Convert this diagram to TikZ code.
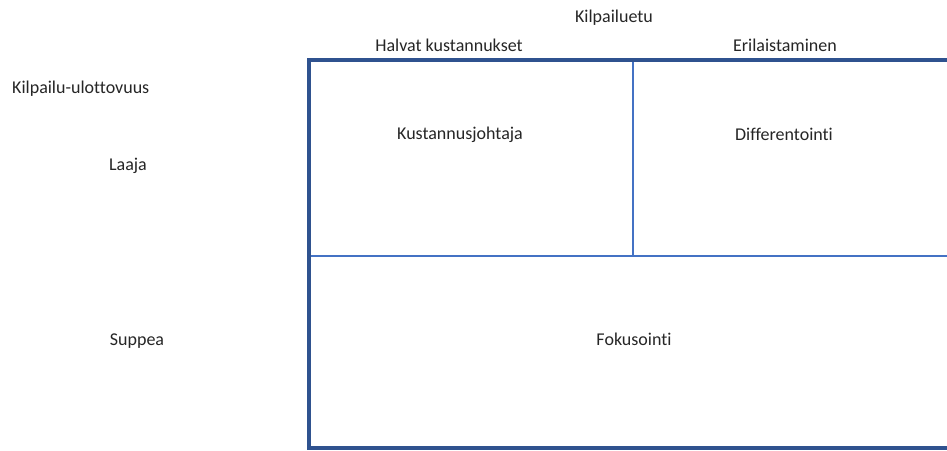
\documentclass[tikz,border=0pt]{standalone}
\usepackage{fontspec}
\setmainfont{Carlito}[Ligatures=NoCommon]
\usetikzlibrary{positioning}
\definecolor{Kehys}{HTML}{2F528F}
\definecolor{Jako}{HTML}{4472C4}
\definecolor{Teksti}{HTML}{262626}

\begin{document}
\begin{tikzpicture}[
  x=1pt,y=-1pt,
  font=\fontsize{18}{21}\selectfont,
  otsikko/.style={text=Teksti,inner sep=1pt},
  kehys/.style={Kehys,line width=3.5pt},
  jako/.style={Jako,line width=2pt}
]
  \useasboundingbox[fill=white] (0,0) rectangle (947,450);

  % Ylaotsikot: kilpailuetu ja sen kaksi lajia.
  \node[otsikko] (etu) at (614,18) {Kilpailuetu};
  \node[otsikko] (halvat) at (449,45) {Halvat kustannukset};
  \node[otsikko] (erilaist) at (785,45) {Erilaistaminen};

  % Vasen sarake: kilpailu-ulottovuus.
  \node[otsikko,anchor=west] (ulottuvuus) at (11,89) {Kilpailu-ulottovuus};
  \node[otsikko] (laaja) at (128,166) {Laaja};
  \node[otsikko] (suppea) at (137,341) {Suppea};

  % Ruudukon kulmat ja jakopisteet.
  \coordinate (yv) at (309,60);
  \coordinate (yo) at (947,60);
  \coordinate (av) at (309,448);
  \coordinate (ao) at (947,448);
  \coordinate (kv) at (309,256);
  \coordinate (ko) at (947,256);
  \coordinate (py) at (633,60);
  \coordinate (pa) at (633,256);

  \draw[jako] (kv)--(ko);
  \draw[jako] (py)--(pa);
  \draw[kehys] (yo)--(yv)--(av)--(ao);

  % Ruutujen nimet.
  \node[otsikko] (johtaja) at (460,135) {Kustannusjohtaja};
  \node[otsikko] (diff) at (784,134) {Differentointi};
  \node[otsikko] (fokus) at (634,339) {Fokusointi};
\end{tikzpicture}
\end{document}
